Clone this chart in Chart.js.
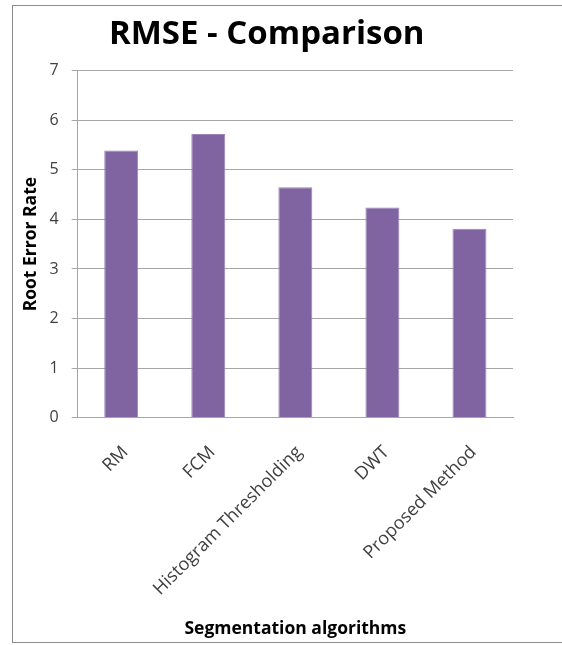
<!DOCTYPE html>
<html lang="en">
<head>
    <meta charset="UTF-8">
    <title>RMSE - Comparison</title>
    <script src="https://cdn.jsdelivr.net/npm/chart.js"></script>
    <style>
        body {
            margin: 0;
            background: white;
            font-family: "Open Sans", sans-serif;
        }
        .frame {
            position: absolute;
            left: 12px;
            top: 5px;
            width: 600px;
            height: 636px;
            border: 1.5px solid #8c8c8c;
        }
        canvas {
            position: absolute;
            left: 0;
            top: 0;
        }
    </style>
</head>
<body>
    <div class="frame"></div>
    <canvas id="grafico" width="562" height="645"></canvas>

    <script>
        const categorias = ["RM", "FCM", "Histogram Thresholding", "DWT", "Proposed Method"];
        const valores = [5.39, 5.72, 4.65, 4.24, 3.81];
        const yTicks = [0, 1, 2, 3, 4, 5, 6, 7];

        const fonte = "'Open Sans', sans-serif";
        const padEsq = 20.5;

        const ctx = document.getElementById("grafico").getContext("2d");
        new Chart(ctx, {
            type: "bar",
            data: {
                labels: categorias,
                datasets: [{
                    label: "RMSE",
                    data: valores,
                    backgroundColor: "#8064a2",
                    borderColor: "#9a82b8",
                    borderWidth: 1,
                    barPercentage: 0.39,
                    categoryPercentage: 1
                }]
            },
            options: {
                responsive: false,
                animation: false,
                layout: {
                    padding: { left: padEsq, right: 49, top: 0, bottom: 0 }
                },
                plugins: {
                    legend: { display: false },
                    tooltip: { enabled: false },
                    title: {
                        display: true,
                        text: "RMSE - Comparison",
                        color: "#000",
                        font: { family: fonte, size: 33, weight: "bold" },
                        padding: { top: 15, bottom: 16 }
                    }
                },
                scales: {
                    y: {
                        min: 0,
                        max: 7,
                        afterBuildTicks: function(scale) {
                            scale.ticks = yTicks.map(v => ({ value: v }));
                        },
                        afterFit: function(scale) {
                            scale.width = 77.7 - padEsq;
                        },
                        grid: {
                            color: "#a6a6a6",
                            lineWidth: 1,
                            drawTicks: true,
                            tickLength: 6
                        },
                        border: { display: true, color: "#a6a6a6", width: 1 },
                        ticks: {
                            color: "#404040",
                            padding: 13,
                            font: { family: fonte, size: 16 }
                        },
                        title: {
                            display: true,
                            text: "Root Error Rate",
                            color: "#000",
                            font: { family: fonte, size: 17.5, weight: "bold" },
                            padding: { top: 0, bottom: 0 }
                        }
                    },
                    x: {
                        afterFit: function(scale) {
                            scale.height = 645 - 417.7;
                        },
                        grid: { display: false, drawTicks: false },
                        border: { display: true, color: "#a6a6a6", width: 1 },
                        ticks: {
                            color: "#404040",
                            minRotation: 45,
                            maxRotation: 45,
                            padding: 24,
                            labelOffset: 4,
                            font: { family: fonte, size: 18 }
                        },
                        title: {
                            display: true,
                            text: "Segmentation algorithms",
                            color: "#000",
                            font: { family: fonte, size: 17.5, weight: "bold" },
                            padding: { top: 0, bottom: 5 }
                        }
                    }
                }
            }
        });
    </script>
</body>
</html>
